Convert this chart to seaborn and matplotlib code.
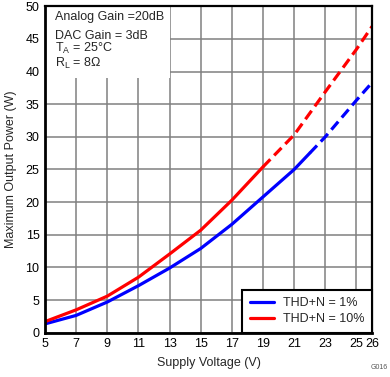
import numpy as np
import pandas as pd
import matplotlib
matplotlib.use("Agg")
import matplotlib.pyplot as plt
from matplotlib.patches import Rectangle
import seaborn as sns

sns.set_theme(style="white")
plt.rcParams["font.family"] = ["Liberation Sans", "DejaVu Sans"]

# THD+N = 1 % (blue)
v_1pct = [5, 7, 9, 11, 13, 15, 17, 19, 21, 22, 23, 25, 26]
p_1pct = [1.35, 2.65, 4.7, 7.2, 9.9, 12.9, 16.6, 20.8, 25.0, 27.5, 30.0, 35.6, 38.3]
solid_end_1pct = 22

# THD+N = 10 % (red)
v_10pct = [5, 7, 9, 11, 13, 15, 17, 19, 21, 23, 25, 26]
p_10pct = [1.7, 3.5, 5.6, 8.5, 12.05, 15.7, 20.3, 25.4, 30.3, 36.9, 43.4, 46.9]
solid_end_10pct = 19

x_ticks = [5, 7, 9, 11, 13, 15, 17, 19, 21, 23, 25, 26]
y_ticks = [0, 5, 10, 15, 20, 25, 30, 35, 40, 45, 50]

fig = plt.figure(figsize=(3.9, 3.77), dpi=100)
ax = fig.add_axes([0.1154, 0.1175, 0.8385, 0.866])

series = [("THD+N = 1%", v_1pct, p_1pct, solid_end_1pct, "#0000ff"),
          ("THD+N = 10%", v_10pct, p_10pct, solid_end_10pct, "#ff0000")]

for label, v, p, cut, color in series:
    df = pd.DataFrame({"v": v, "p": p})
    solid = df[df.v <= cut]
    dashed = df[df.v >= cut]
    sns.lineplot(data=solid, x="v", y="p", color=color, lw=2.3, ax=ax,
                 label=label, zorder=3)
    n = len(ax.lines)
    sns.lineplot(data=dashed, x="v", y="p", color=color, lw=2.3, ax=ax,
                 zorder=3)
    for ln in ax.lines[n:]:
        ln.set_dashes([3.3, 1.7])

ax.set_xlim(5, 26)
ax.set_ylim(0, 50)
ax.set_xticks(x_ticks)
ax.set_yticks(y_ticks)
ax.set_xticklabels(["5", "7", "9", "11", "13", "15", "17", "19", "21", "23", "25", "26"])
ax.tick_params(length=0, labelsize=9, colors="black", pad=4)
ax.set_axisbelow(True)
ax.grid(True, color="#808080", lw=1.1)

for side in ["left", "bottom"]:
    ax.spines[side].set_linewidth(2)
for side in ["top", "right"]:
    ax.spines[side].set_linewidth(1.6)
for s in ax.spines.values():
    s.set_color("black")
    s.set_zorder(5)

ax.set_xlabel("Supply Voltage (V)", fontsize=9, labelpad=5)
ax.set_ylabel("Maximum Output Power (W)", fontsize=9, labelpad=6)

# white annotation panel covering the grid
ax.add_patch(Rectangle((0, 0.78), 0.382, 0.22, transform=ax.transAxes,
                       facecolor="white", edgecolor="none", zorder=1))
notes = ["Analog Gain =20dB", "DAC Gain = 3dB",
         r"T$_\mathregular{A}$ = 25°C", r"R$_\mathregular{L}$ = 8Ω"]
note_y = [0.966, 0.91, 0.87, 0.826]
for t, y in zip(notes, note_y):
    ax.text(0.03, y, t, transform=ax.transAxes, fontsize=9, va="center",
            ha="left", zorder=4)

leg = ax.legend(loc="lower right", fontsize=9, frameon=True, fancybox=False,
                borderaxespad=0, handlelength=1.9, handletextpad=0.75,
                borderpad=0.6, labelspacing=0.3)
leg.get_frame().set_edgecolor("black")
leg.get_frame().set_linewidth(1.5)
leg.get_frame().set_alpha(1)
leg.set_zorder(6)

fig.text(0.995, 0.015, "G016", fontsize=5, color="#555555", ha="right", va="bottom")

fig.savefig("out.png", dpi=100)
